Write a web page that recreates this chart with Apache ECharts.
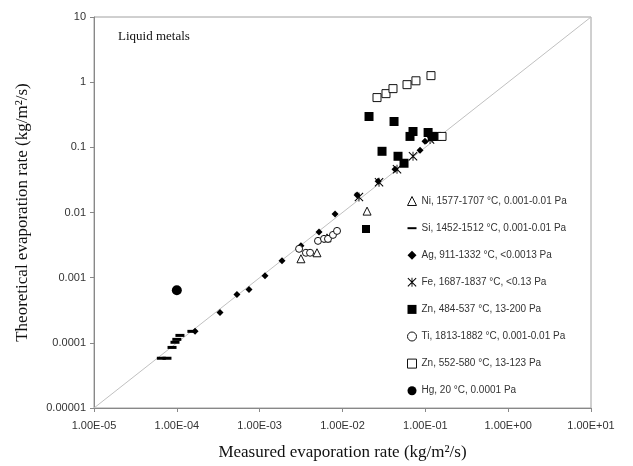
<!DOCTYPE html>
<html>
<head>
<meta charset="utf-8">
<script src="https://cdn.jsdelivr.net/npm/echarts@6/dist/echarts.min.js"></script>
<style>
html,body{margin:0;padding:0;background:#fff;}
#chart{width:633px;height:466px;}
</style>
</head>
<body>
<div id="chart"></div>
<script>
// ---- data (measured, theoretical) ----
const xTickLabels = ['1.00E-05','1.00E-04','1.00E-03','1.00E-02','1.00E-01','1.00E+00','1.00E+01'];
const yTickLabels = ['0.00001','0.0001','0.001','0.01','0.1','1','10'];
const seriesNames = [
  'Ni, 1577-1707 °C, 0.001-0.01 Pa',
  'Si, 1452-1512 °C, 0.001-0.01 Pa',
  'Ag, 911-1332 °C, <0.0013 Pa',
  'Fe, 1687-1837 °C, <0.13 Pa',
  'Zn, 484-537 °C, 13-200 Pa',
  'Ti, 1813-1882 °C, 0.001-0.01 Pa',
  'Zn, 552-580 °C, 13-123 Pa',
  'Hg, 20 °C, 0.0001 Pa'
];
const ni = [[3.15e-3,1.95e-3],[4.92e-3,2.41e-3],[6.5e-3,4.08e-3],[1.98e-2,1.05e-2]];
const si = [[6.5e-5,5.8e-5],[7.6e-5,5.8e-5],[8.75e-5,8.5e-5],[9.5e-5,1.02e-4],[1.0e-4,1.13e-4],[1.09e-4,1.3e-4],[1.52e-4,1.5e-4]];
const ag = [[1.66e-4,1.5e-4],[3.32e-4,2.92e-4],[5.32e-4,5.5e-4],[7.43e-4,6.56e-4],[1.16e-3,1.07e-3],[1.86e-3,1.82e-3],[3.15e-3,3.08e-3],[5.2e-3,5.04e-3],[8.13e-3,9.5e-3],[1.5e-2,1.85e-2],[2.69e-2,3.03e-2],[4.3e-2,4.61e-2],[8.63e-2,9.0e-2],[9.9e-2,0.124]];
const fe = [[1.58e-2,1.73e-2],[2.76e-2,2.92e-2],[4.55e-2,4.61e-2],[7.1e-2,7.29e-2],[0.114,0.132]];
const znA = [[2.09e-2,0.297],[4.19e-2,0.249],[3.0e-2,0.0869],[6.53e-2,0.147],[7.1e-2,0.175],[4.68e-2,0.0729],[5.53e-2,0.057],[0.108,0.169],[0.121,0.147],[0.138,0.147]];
const ti = [[2.99e-3,2.77e-3],[3.62e-3,2.41e-3],[4.06e-3,2.41e-3],[5.06e-3,3.67e-3],[5.98e-3,3.94e-3],[6.68e-3,3.94e-3],[7.67e-3,4.53e-3],[8.59e-3,5.22e-3]];
const znB = [[2.61e-2,0.58],[3.35e-2,0.667],[4.07e-2,0.796],[6.01e-2,0.916],[7.7e-2,1.05],[0.117,1.26],[0.159,0.147]];
const hg = [[1.0e-4,6.4e-4]];
const axisMin = 1e-5, axisMax = 10;

// ---- symbols ----
const feSymbol = 'path://M4.5,0L5.5,0L5.5,10L4.5,10ZM0,0.8L0.8,0L10,9.2L9.2,10ZM9.2,0L10,0.8L0.8,10L0,9.2Z';
const dashSymbol = 'path://M0,0L0,0M0,10L0,10M0,4L10,4L10,6.2L0,6.2Z';
const ink = '#000';

function scat(name, data, symbol, size, filled) {
  return {
    name: name, type: 'scatter', data: data, symbol: symbol, symbolSize: size,
    itemStyle: filled ? {color: ink, opacity: 1} : {color: '#fff', borderColor: '#111', borderWidth: 1, opacity: 1},
    emphasis: {disabled: true}, z: 3
  };
}

const chart = echarts.init(document.getElementById('chart'), null, {renderer: 'canvas'});
const idx = v => Math.round(Math.log10(v)) + 5;

chart.setOption({
  animation: false,
  backgroundColor: '#fff',
  grid: {left: 94, right: 42, top: 17, bottom: 56, show: true, borderColor: '#a0a0a0', borderWidth: 1},
  title: {text: 'Liquid metals', left: 113, top: 25,
    textStyle: {fontFamily: 'Liberation Serif', fontSize: 13, fontWeight: 'normal', color: '#111'}},
  legend: {
    orient: 'vertical', left: 402, top: 191, itemWidth: 9, itemHeight: 9, itemGap: 17.1,
    textStyle: {fontFamily: 'Liberation Sans', fontSize: 10, color: '#333'},
    itemStyle: {borderWidth: 1},
    data: seriesNames.map((n, i) => {
      if (i === 1) return {name: n, icon: dashSymbol};
      return {name: n};
    }),
    selectedMode: false
  },
  xAxis: {
    type: 'log', logBase: 10, min: axisMin, max: axisMax,
    name: 'Measured evaporation rate (kg/m²/s)', nameLocation: 'middle', nameGap: 36,
    nameTextStyle: {fontFamily: 'Liberation Serif', fontSize: 17, color: '#111'},
    axisLine: {lineStyle: {color: '#888'}},
    axisTick: {show: true, length: 4, lineStyle: {color: '#888'}},
    splitLine: {show: false},
    axisLabel: {fontFamily: 'Liberation Sans', fontSize: 11, color: '#333', margin: 12,
      formatter: v => xTickLabels[idx(v)]}
  },
  yAxis: {
    type: 'log', logBase: 10, min: axisMin, max: axisMax,
    name: 'Theoretical evaporation rate (kg/m²/s)', nameLocation: 'middle', nameGap: 63,
    nameTextStyle: {fontFamily: 'Liberation Serif', fontSize: 17, color: '#111'},
    axisLine: {lineStyle: {color: '#888'}},
    axisTick: {show: true, length: 4, lineStyle: {color: '#888'}},
    splitLine: {show: false},
    axisLabel: {fontFamily: 'Liberation Sans', fontSize: 11, color: '#333', margin: 8,
      formatter: v => yTickLabels[idx(v)]}
  },
  graphic: [
    {type: 'rect', left: 362, top: 225, shape: {width: 8, height: 8}, style: {fill: ink}, z: 10}
  ],
  series: [
    {type: 'line', data: [[axisMin, axisMin],[axisMax, axisMax]], symbol: 'none',
      lineStyle: {color: '#c0c0c0', width: 1}, silent: true, z: 1},
    scat(seriesNames[0], ni, 'triangle', 8, false),
    scat(seriesNames[1], si, 'rect', [9, 3], true),
    scat(seriesNames[2], ag, 'diamond', 7, true),
    scat(seriesNames[3], fe, feSymbol, 9, true),
    scat(seriesNames[4], znA, 'rect', 9, true),
    scat(seriesNames[5], ti, 'circle', 7, false),
    scat(seriesNames[6], znB, 'rect', 8, false),
    scat(seriesNames[7], hg, 'circle', 10, true)
  ]
});
</script>
</body>
</html>
